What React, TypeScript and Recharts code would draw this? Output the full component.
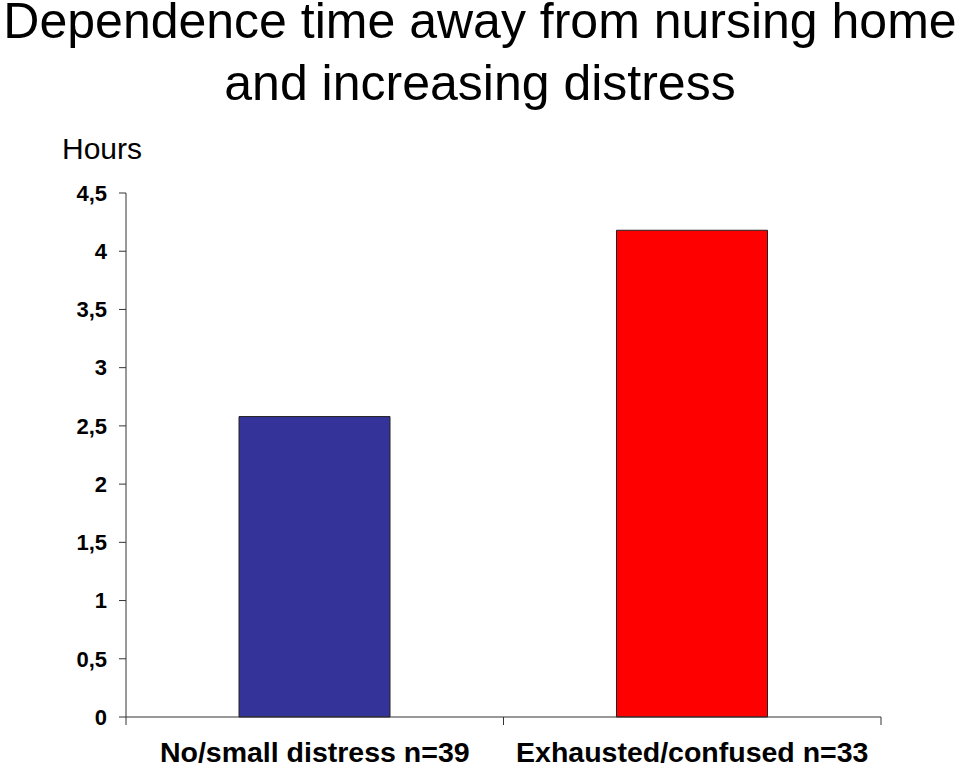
import { BarChart, Bar, XAxis, YAxis, Cell } from "recharts";

const categories = ["No/small distress n=39", "Exhausted/confused n=33"];
const hours = [2.58, 4.18];
const barColors = ["#333399", "#FF0000"];
const yTicks = [0, 0.5, 1, 1.5, 2, 2.5, 3, 3.5, 4, 4.5];
const titleLines = ["Dependence time away from nursing home", "and increasing distress"];
const yLabel = "Hours";

const data = categories.map((name, i) => ({ name, hours: hours[i] }));

const FONT = '"Liberation Sans", Arial, Helvetica, sans-serif';
const AXIS = "#333333";
const PLOT_WIDTH = 755;

function CategoryTick(props: any) {
  const { x, y, payload, index } = props;
  const half = payload?.offset || PLOT_WIDTH / categories.length / 2;
  return (
    <g>
      {index === 0 && (
        <line x1={x - half} x2={x - half} y1={y} y2={y + 8} stroke={AXIS} strokeWidth={1} />
      )}
      <line x1={x + half} x2={x + half} y1={y} y2={y + 8} stroke={AXIS} strokeWidth={1} />
      <text
        x={x}
        y={y + 45}
        textAnchor="middle"
        fontFamily={FONT}
        fontWeight="bold"
        fontSize={28.5}
        fill="#000"
      >
        {payload.value}
      </text>
    </g>
  );
}

export default function App() {
  return (
    <div
      style={{
        position: "fixed",
        left: 0,
        top: 0,
        width: 960,
        height: 769,
        background: "#fff",
        fontFamily: FONT,
        overflow: "hidden",
      }}
    >
      {titleLines.map((t, i) => (
        <div
          key={t}
          style={{
            position: "absolute",
            left: 0,
            width: 960,
            top: i === 0 ? 0 : 62,
            textAlign: "center",
            fontSize: 50,
            lineHeight: "42px",
            whiteSpace: "nowrap",
            color: "#000",
          }}
        >
          {t}
        </div>
      ))}
      <div
        style={{
          position: "absolute",
          left: 42,
          width: 120,
          top: 134,
          textAlign: "center",
          fontSize: 30,
          lineHeight: "30px",
          color: "#000",
        }}
      >
        {yLabel}
      </div>
      <BarChart
        width={960}
        height={769}
        data={data}
        margin={{ top: 193, right: 79, bottom: 0, left: 66 }}
        style={{ position: "absolute", left: 0, top: 0 }}
      >
        <XAxis
          dataKey="name"
          height={52}
          axisLine={{ stroke: AXIS, strokeWidth: 1 }}
          tickLine={false}
          tickSize={0}
          tickMargin={0}
          interval={0}
          tick={<CategoryTick />}
        />
        <YAxis
          width={60}
          domain={[0, 4.5]}
          ticks={yTicks}
          interval={0}
          axisLine={{ stroke: AXIS, strokeWidth: 1 }}
          tickLine={{ stroke: AXIS, strokeWidth: 1 }}
          tickSize={7}
          tickMargin={12}
          tick={{ fontFamily: FONT, fontWeight: "bold", fontSize: 22, fill: "#000" }}
          tickFormatter={(v) => String(v).replace(".", ",")}
        />
        <Bar dataKey="hours" barSize={151} stroke="#222" strokeWidth={1} isAnimationActive={false}>
          {data.map((d, i) => (
            <Cell key={d.name} fill={barColors[i]} />
          ))}
        </Bar>
      </BarChart>
    </div>
  );
}
